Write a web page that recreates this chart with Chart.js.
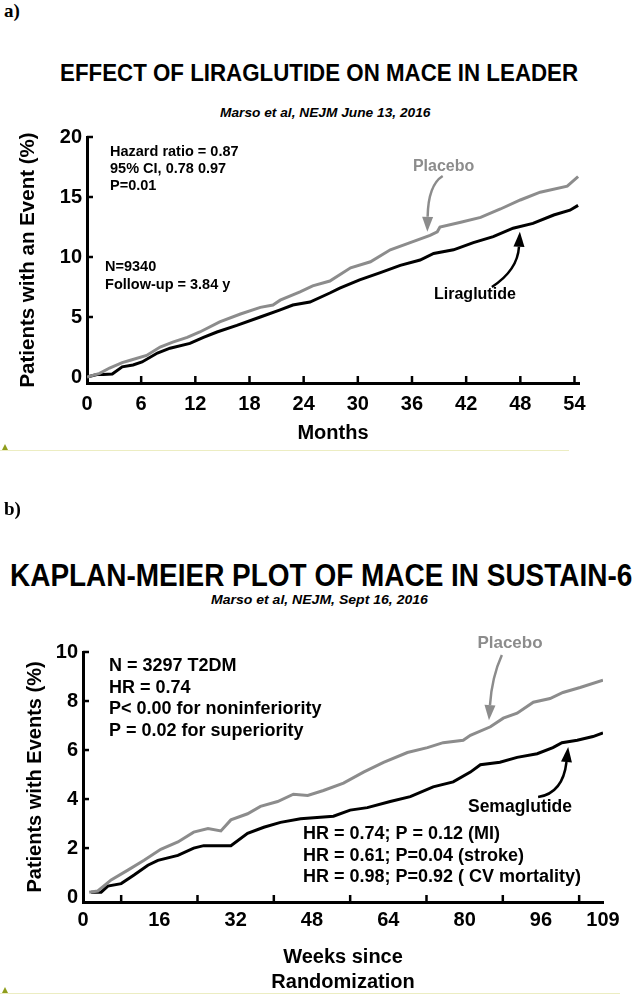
<!DOCTYPE html>
<html>
<head>
<meta charset="utf-8">
<title>MACE in LEADER and SUSTAIN-6</title>
<script src="https://cdn.jsdelivr.net/npm/chart.js@4.4.1/dist/chart.umd.min.js"></script>
<style>
  body { margin: 0; width: 638px; height: 995px; position: relative; overflow: hidden; background: #fff; font-family: "Liberation Sans", Arial, sans-serif; color: #000; }
  .txt { position: absolute; white-space: nowrap; line-height: 1; transform-origin: 0 50%; }
  .panel { font-family: "Liberation Serif", "Times New Roman", serif; font-weight: bold; font-size: 19px; left: 4px; }
  .title { font-weight: bold; }
  .sub { font-weight: bold; font-style: italic; font-size: 13px; }
  canvas { position: absolute; left: 0; }
  .rule { position: absolute; left: 0; height: 0; border-top: 1px solid #ecedc2; }
  .tri { position: absolute; left: 2px; width: 0; height: 0; border-left: 3px solid transparent; border-right: 3px solid transparent; border-bottom: 6px solid #8f9d1c; }
</style>
</head>
<body>
<div class="txt panel" style="top:1px">a)</div>
<div class="txt title fit" style="top:62px; font-size:23px" data-left="60" data-width="518">EFFECT OF LIRAGLUTIDE ON MACE IN LEADER</div>
<div class="txt sub fit" style="top:106px" data-left="220" data-width="210">Marso et al, NEJM June 13, 2016</div>
<canvas id="leaderChart" width="638" height="325" style="top:120px"></canvas>
<div class="rule" style="top:450px; width:569px"></div>
<div class="tri" style="top:444px"></div>

<div class="txt panel" style="top:499px">b)</div>
<div class="txt title fit" style="top:559px; font-size:32px" data-left="10" data-width="622">KAPLAN-MEIER PLOT OF MACE IN SUSTAIN-6</div>
<div class="txt sub fit" style="top:593px" data-left="211" data-width="217">Marso et al, NEJM, Sept 16, 2016</div>
<canvas id="sustainChart" width="638" height="380" style="top:615px"></canvas>
<div class="rule" style="top:993px; width:620px"></div>
<div class="tri" style="top:987px"></div>

<script>
// LEADER: cumulative % of patients with MACE by month
const leaderPlaceboMonths = [0, 1.4, 2.5, 3.9, 4.8, 6.6, 8.1, 9.5, 11.1, 12.5, 14.7, 17.0, 19.2, 20.6, 21.4, 23.6, 25.0, 26.9, 29.2, 31.4, 33.6, 35.8, 38.0, 38.8, 39.1, 41.4, 43.6, 45.8, 48.0, 50.2, 53.2, 54.4];
const leaderPlaceboPct = [0, 0.3, 0.75, 1.2, 1.4, 1.8, 2.5, 2.9, 3.3, 3.75, 4.6, 5.25, 5.8, 6.0, 6.4, 7.1, 7.6, 8.0, 9.1, 9.6, 10.6, 11.2, 11.8, 12.1, 12.5, 12.9, 13.3, 14.0, 14.75, 15.4, 15.9, 16.7];
const leaderLiraMonths = [0, 1.1, 1.8, 2.8, 3.9, 5.1, 6.1, 7.8, 9.2, 11.4, 12.9, 14.4, 16.6, 19.2, 21.4, 22.8, 24.7, 26.9, 28.0, 30.2, 32.5, 34.7, 36.9, 38.4, 40.6, 42.8, 45.0, 47.2, 49.4, 51.7, 53.5, 54.4];
const leaderLiraPct = [0, 0.2, 0.2, 0.25, 0.85, 1.0, 1.25, 2.0, 2.4, 2.8, 3.3, 3.75, 4.3, 5.0, 5.6, 6.0, 6.25, 7.0, 7.4, 8.1, 8.7, 9.3, 9.75, 10.3, 10.6, 11.2, 11.7, 12.4, 12.8, 13.5, 13.9, 14.3];
const leaderMonthTicks = [0, 6, 12, 18, 24, 30, 36, 42, 48, 54];
const leaderPctTicks = [0, 5, 10, 15, 20];

// SUSTAIN-6: cumulative % of patients with events by week
const sustainPlaceboWeeks = [1.3, 3.1, 5.9, 9.4, 12.8, 16.3, 19.9, 23.2, 26.2, 28.9, 31.0, 34.5, 37.2, 40.8, 44.1, 47.1, 50.4, 54.6, 58.8, 63.0, 68.0, 72.2, 75.5, 79.7, 81.2, 85.4, 88.1, 91.0, 94.4, 97.9, 100.6, 104.2, 109.0];
const sustainPlaceboPct = [0.2, 0.25, 0.7, 1.1, 1.5, 1.95, 2.25, 2.65, 2.8, 2.7, 3.15, 3.4, 3.7, 3.9, 4.2, 4.15, 4.35, 4.65, 5.1, 5.5, 5.9, 6.1, 6.3, 6.4, 6.6, 6.95, 7.3, 7.5, 7.95, 8.1, 8.35, 8.55, 8.85];
const sustainSemaWeeks = [1.7, 3.8, 5.2, 8.0, 10.7, 13.6, 15.7, 19.9, 23.2, 25.3, 31.0, 34.5, 37.9, 41.4, 45.6, 52.5, 56.0, 59.6, 64.4, 68.6, 73.4, 77.6, 81.2, 83.3, 87.4, 91.0, 95.2, 98.5, 100.4, 103.6, 106.9, 109.0];
const sustainSemaPct = [0.2, 0.2, 0.45, 0.55, 0.9, 1.3, 1.5, 1.7, 2.0, 2.1, 2.1, 2.6, 2.85, 3.05, 3.2, 3.3, 3.55, 3.65, 3.9, 4.1, 4.5, 4.7, 5.1, 5.4, 5.5, 5.7, 5.85, 6.1, 6.3, 6.4, 6.55, 6.7];
const sustainWeekTicks = [0, 16, 32, 48, 64, 80, 96, 109];
const sustainWeekMarks = [8, 24, 40, 56, 72, 88, 104];
const sustainPctTicks = [0, 2, 4, 6, 8, 10];

const FONT = "'Liberation Sans', Arial, sans-serif";
const GREY = "#8c8c8c";

function toPoints(xs, ys) {
    return xs.map((x, i) => ({ x: x, y: ys[i] }));
}

function boldFont(size, lineHeight) {
    return { family: FONT, weight: "bold", size: size, lineHeight: lineHeight || 1.2 };
}

// squeeze the html headings to the width they take in the figure
document.querySelectorAll(".fit").forEach(function (el) {
    el.style.left = el.dataset.left + "px";
    el.style.transform = "scaleX(" + (el.dataset.width / el.offsetWidth) + ")";
});

// inward tick marks, the stats text and the curved label arrows
const kmExtras = {
    id: "kmExtras",
    afterDraw(chart, args, opts) {
        const ctx = chart.ctx;
        const x = chart.scales.x;
        const y = chart.scales.y;
        ctx.save();
        ctx.strokeStyle = "#000";
        ctx.lineWidth = 2.5;
        opts.xMarks.forEach(function (v) {
            const px = x.getPixelForValue(v);
            ctx.beginPath();
            ctx.moveTo(px, y.bottom);
            ctx.lineTo(px, y.bottom - 7);
            ctx.stroke();
        });
        opts.yMarks.forEach(function (v) {
            const py = y.getPixelForValue(v);
            ctx.beginPath();
            ctx.moveTo(x.left, py);
            ctx.lineTo(x.left + 6, py);
            ctx.stroke();
        });

        opts.notes.forEach(function (n) {
            ctx.font = "bold " + n.size + "px " + FONT;
            ctx.fillStyle = n.color || "#000";
            ctx.textAlign = n.align || "left";
            ctx.textBaseline = "middle";
            const px = x.getPixelForValue(n.x);
            const py = y.getPixelForValue(n.y);
            n.lines.forEach(function (t, i) {
                ctx.fillText(t, px, py + i * n.lh);
            });
        });

        opts.arrows.forEach(function (a) {
            const sx = x.getPixelForValue(a.from[0]), sy = y.getPixelForValue(a.from[1]);
            const cx = x.getPixelForValue(a.via[0]), cy = y.getPixelForValue(a.via[1]);
            const ex = x.getPixelForValue(a.to[0]), ey = y.getPixelForValue(a.to[1]);
            let dx = ex - cx, dy = ey - cy;
            const len = Math.hypot(dx, dy);
            dx /= len; dy /= len;
            const head = 15, half = 5.5;
            const bx = ex - dx * head, by = ey - dy * head;
            ctx.strokeStyle = a.color;
            ctx.fillStyle = a.color;
            ctx.lineWidth = 2.5;
            ctx.beginPath();
            ctx.moveTo(sx, sy);
            ctx.quadraticCurveTo(cx, cy, bx, by);
            ctx.stroke();
            ctx.beginPath();
            ctx.moveTo(ex, ey);
            ctx.lineTo(bx - dy * half, by + dx * half);
            ctx.lineTo(bx + dy * half, by - dx * half);
            ctx.closePath();
            ctx.fill();
        });
        ctx.restore();
    },
};

function kmChart(id, cfg) {
    return new Chart(document.getElementById(id), {
        type: "line",
        data: { datasets: cfg.datasets },
        options: {
            responsive: false,
            animation: false,
            events: [],
            layout: { padding: cfg.padding },
            elements: {
                point: { radius: 0 },
                line: { tension: 0, borderWidth: 3 },
            },
            plugins: {
                legend: { display: false },
                tooltip: { enabled: false },
                kmExtras: cfg.extras,
            },
            scales: {
                x: {
                    type: "linear",
                    min: cfg.xMin,
                    max: cfg.xMax,
                    afterBuildTicks: function (s) {
                        s.ticks = cfg.xTicks.map((v) => ({ value: v }));
                    },
                    afterFit: function (s) {
                        s.height = cfg.xHeight;
                    },
                    grid: { drawOnChartArea: false, drawTicks: false, color: "rgba(0,0,0,0)" },
                    border: { color: "#000", width: 3 },
                    ticks: {
                        autoSkip: false,
                        maxRotation: 0,
                        padding: cfg.xTickPad,
                        color: "#000",
                        font: boldFont(20),
                    },
                    title: {
                        display: true,
                        text: cfg.xTitle,
                        color: "#000",
                        font: boldFont(20, cfg.xTitleLine),
                        padding: { top: 0, bottom: 0 },
                    },
                },
                y: {
                    min: cfg.yMin,
                    max: cfg.yMax,
                    afterBuildTicks: function (s) {
                        s.ticks = cfg.yTicks.map((v) => ({ value: v }));
                    },
                    afterFit: function (s) {
                        s.width = cfg.yWidth;
                    },
                    grid: { drawOnChartArea: false, drawTicks: false, color: "rgba(0,0,0,0)" },
                    border: { color: "#000", width: 3 },
                    ticks: { padding: 5, color: "#000", font: boldFont(20) },
                    title: {
                        display: true,
                        text: cfg.yTitle,
                        color: "#000",
                        font: boldFont(cfg.yTitleSize),
                        padding: { top: cfg.yTitlePad, bottom: 0 },
                    },
                },
            },
        },
        plugins: [kmExtras],
    });
}

kmChart("leaderChart", {
    datasets: [
        { label: "Placebo", data: toPoints(leaderPlaceboMonths, leaderPlaceboPct), borderColor: GREY },
        { label: "Liraglutide", data: toPoints(leaderLiraMonths, leaderLiraPct), borderColor: "#000" },
    ],
    padding: { top: 17, right: 59, bottom: 0, left: 0 },
    xMin: 0, xMax: 54.5, xTicks: leaderMonthTicks, xHeight: 62, xTickPad: 9,
    xTitle: "Months",
    yMin: -0.5, yMax: 20, yTicks: leaderPctTicks, yWidth: 87,
    yTitle: "Patients with an Event (%)", yTitleSize: 20.5, yTitlePad: 16,
    extras: {
        xMarks: [6, 12, 18, 24, 30, 36, 42, 48, 54],
        yMarks: [5, 10, 15, 20],
        notes: [
            { x: 2.55, y: 18.75, lines: ["Hazard ratio = 0.87", "95% CI, 0.78 0.97", "P=0.01"], size: 14.5, lh: 17 },
            { x: 2.0, y: 9.17, lines: ["N=9340", "Follow-up = 3.84 y"], size: 14.5, lh: 18 },
            { x: 39.5, y: 17.5, lines: ["Placebo"], size: 16, lh: 0, color: GREY, align: "center" },
            { x: 42.97, y: 6.83, lines: ["Liraglutide"], size: 16, lh: 0, align: "center" },
        ],
        arrows: [
            { from: [39.4, 16.75], via: [37.8, 16.0], to: [37.7, 12.1], color: GREY },
            { from: [44.85, 7.5], via: [47.7, 8.9], to: [47.95, 12.1], color: "#000" },
        ],
    },
});

kmChart("sustainChart", {
    datasets: [
        { label: "Placebo", data: toPoints(sustainPlaceboWeeks, sustainPlaceboPct), borderColor: GREY },
        { label: "Semaglutide", data: toPoints(sustainSemaWeeks, sustainSemaPct), borderColor: "#000" },
    ],
    padding: { top: 37, right: 35, bottom: 0, left: 0 },
    xMin: 0, xMax: 109, xTicks: sustainWeekTicks, xHeight: 93, xTickPad: 6,
    xTitle: ["Weeks since", "Randomization"], xTitleLine: 1.25,
    yMin: -0.2, yMax: 10, yTicks: sustainPctTicks, yWidth: 83,
    yTitle: "Patients with Events (%)", yTitleSize: 20, yTitlePad: 23,
    extras: {
        xMarks: sustainWeekMarks,
        yMarks: [2, 4, 6, 8, 10],
        notes: [
            { x: 5.45, y: 9.43, lines: ["N = 3297 T2DM", "HR = 0.74", "P< 0.00 for noninferiority", "P = 0.02 for superiority"], size: 18, lh: 21.7 },
            { x: 46.1, y: 2.57, lines: ["HR = 0.74; P = 0.12 (MI)", "HR = 0.61; P=0.04 (stroke)", "HR = 0.98; P=0.92 ( CV mortality)"], size: 18, lh: 21.5 },
            { x: 89.5, y: 10.37, lines: ["Placebo"], size: 17, lh: 0, color: GREY, align: "center" },
            { x: 91.6, y: 3.67, lines: ["Semaglutide"], size: 17.5, lh: 0, align: "center" },
        ],
        arrows: [
            { from: [87.8, 9.88], via: [85.7, 8.98], to: [85.1, 7.22], color: GREY },
            { from: [95.4, 4.08], via: [100.6, 4.24], to: [101.7, 6.12], color: "#000" },
        ],
    },
});
</script>
</body>
</html>
